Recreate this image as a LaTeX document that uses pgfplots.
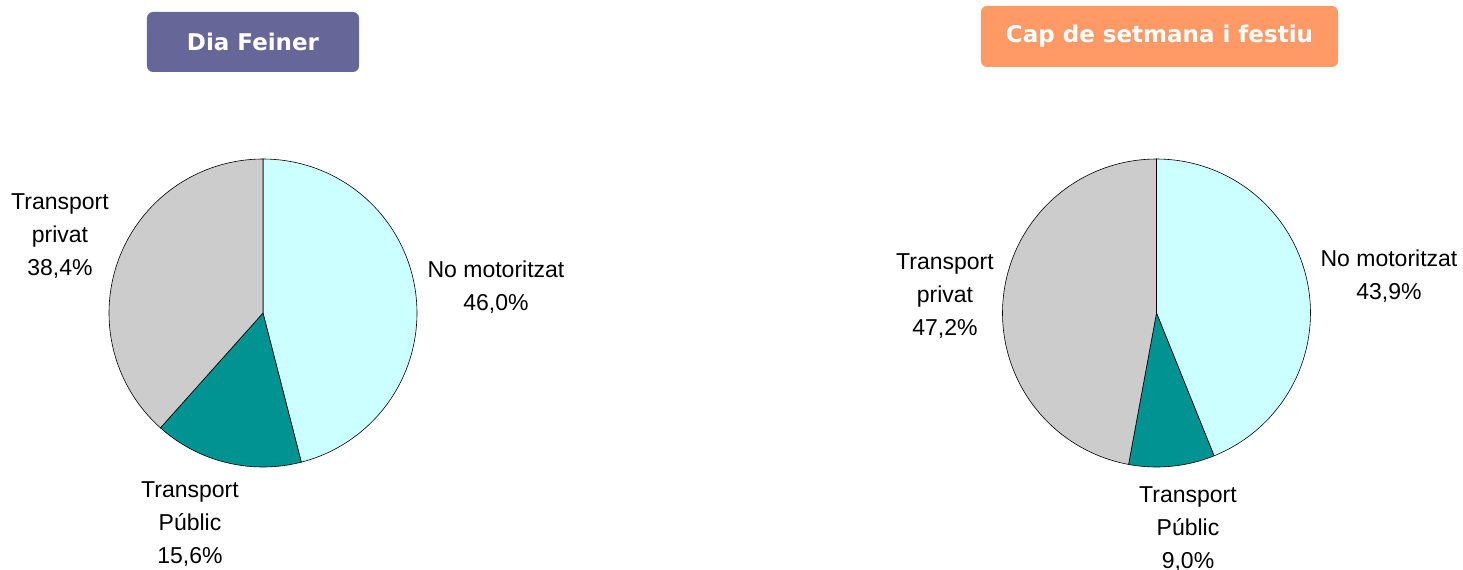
\documentclass[border=0pt]{standalone}
\usepackage{pgfplots}
\usepackage{pgfplotstable}
\pgfplotsset{compat=1.18}
\usepackage{fontspec}
\setmainfont{Liberation Sans}
\newfontfamily\titlefont{DejaVu Sans}
\definecolor{nomot}{HTML}{CCFFFF}
\definecolor{public}{HTML}{009391}
\definecolor{privat}{HTML}{CCCCCC}
\definecolor{boxA}{HTML}{666699}
\definecolor{boxB}{HTML}{FF9966}

\pgfplotstableread{
cat val
NoMotoritzat 46.0
Public 15.6
Privat 38.4
}\feiner
\pgfplotstableread{
cat val
NoMotoritzat 43.9
Public 9.0
Privat 47.2
}\festiu

\newcommand\getangles[2]{% table, prefix
  \pgfplotstablegetelem{0}{val}\of#1\pgfmathsetmacro\myva{\pgfplotsretval}%
  \pgfplotstablegetelem{1}{val}\of#1\pgfmathsetmacro\myvb{\pgfplotsretval}%
  \pgfmathsetmacro\myangA{90-3.6*\myva}%
  \pgfmathsetmacro\myangB{\myangA-3.6*\myvb}%
  \expandafter\xdef\csname #2A\endcsname{\myangA}%
  \expandafter\xdef\csname #2B\endcsname{\myangB}%
}
\getangles{\feiner}{fe}
\getangles{\festiu}{fs}

\newcommand\pieslice[6]{%
  \addplot[fill=#6, draw=black, line width=0.6bp, domain=#4:#5, samples=90, variable=\t]
    ({#1+#3*cos(\t)},{#2+#3*sin(\t)}) -- (axis cs:#1,#2) -- cycle;%
}

\begin{document}
\begin{tikzpicture}
\useasboundingbox (0,0) rectangle (1463bp,570bp);
\begin{axis}[at={(0,0)}, anchor=south west, scale only axis,
  width=1463bp, height=570bp, xmin=0, xmax=1463, ymin=0, ymax=570,
  hide axis, clip=false]
% Dia Feiner
\pieslice{263}{257}{154}{\feA}{90}{nomot}
\pieslice{263}{257}{154}{\feB}{\feA}{public}
\pieslice{263}{257}{154}{-270}{\feB}{privat}
% Cap de setmana
\pieslice{1156.5}{257}{154}{\fsA}{90}{nomot}
\pieslice{1156.5}{257}{154}{\fsB}{\fsA}{public}
\pieslice{1156.5}{257}{154}{-270}{\fsB}{privat}

\node[fill=boxA, rounded corners=6bp, minimum width=212bp, minimum height=60bp,
  text=white, font=\titlefont\bfseries\fontsize{23bp}{28bp}\selectfont] at (axis cs:253,528) {Dia Feiner};
\node[fill=boxB, rounded corners=6bp, minimum width=357bp, minimum height=61bp,
  text=white, font=\titlefont\bfseries\fontsize{23bp}{28bp}\selectfont] at (axis cs:1159.5,533.5) {Cap de setmana i festiu};

\tikzset{lbl/.style={align=center, inner sep=0pt, font=\fontsize{23bp}{33bp}\selectfont}}
\node[lbl] at (axis cs:60,334) {Transport\\privat\\38,4\%};
\node[lbl] at (axis cs:496,282.5) {No motoritzat\\46,0\%};
\node[lbl] at (axis cs:190,46) {Transport\\Públic\\15,6\%};
\node[lbl] at (axis cs:945,274) {Transport\\privat\\47,2\%};
\node[lbl] at (axis cs:1389,294) {No motoritzat\\43,9\%};
\node[lbl] at (axis cs:1188,41) {Transport\\Públic\\9,0\%};
\end{axis}
\end{tikzpicture}
\end{document}
